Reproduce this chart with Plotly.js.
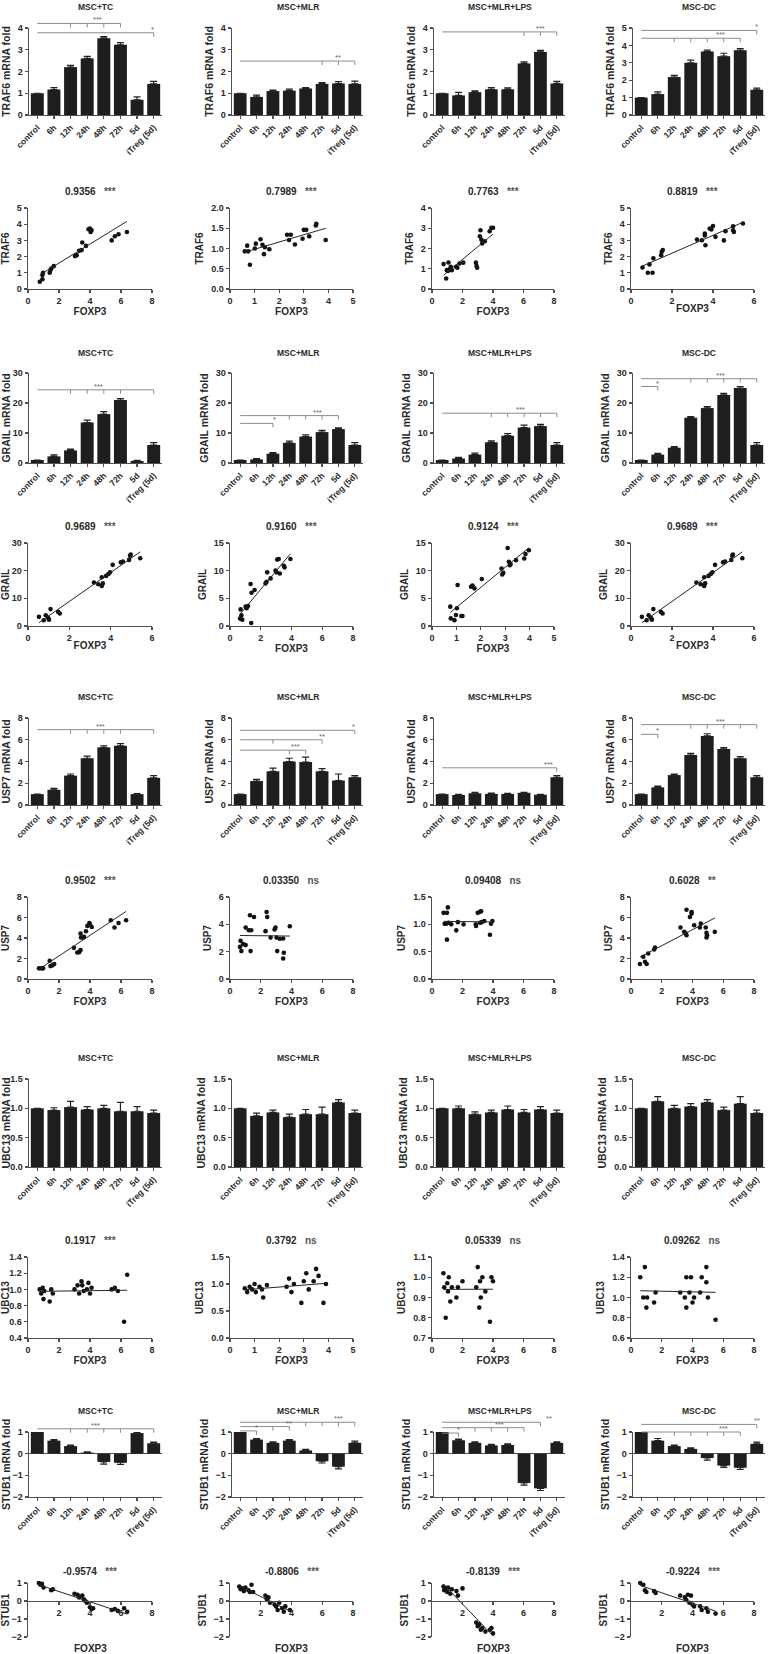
<!DOCTYPE html>
<html><head><meta charset="utf-8">
<script src="https://cdn.plot.ly/plotly-3.0.1.min.js"></script>
<style>html,body{margin:0;padding:0;background:#fff}#chart{width:770px;height:1654px}</style>
</head><body><div id="chart"></div>
<script>
// ---------------- DATA ----------------
const categories = ['control','6h','12h','24h','48h','72h','5d','iTreg (5d)'];
const groups = ['MSC+TC','MSC+MLR','MSC+MLR+LPS','MSC-DC'];

// TRAF6 bars (mean, SEM)
const traf6_tc = [1.0,1.17,2.2,2.6,3.53,3.23,0.7,1.43];
const traf6_tc_sem = [0,0.09,0.08,0.1,0.07,0.1,0.13,0.12];
const traf6_mlr = [1.0,0.83,1.1,1.12,1.22,1.43,1.45,1.43];
const traf6_mlr_sem = [0,0.08,0.05,0.07,0.04,0.06,0.09,0.13];
const traf6_lps = [1.0,0.9,1.05,1.18,1.18,2.37,2.9,1.45];
const traf6_lps_sem = [0,0.14,0.06,0.08,0.07,0.07,0.07,0.1];
const traf6_dc = [1.0,1.2,2.18,3.0,3.65,3.38,3.72,1.45];
const traf6_dc_sem = [0,0.13,0.1,0.15,0.08,0.17,0.1,0.1];
// significance brackets: [from, to, level, tick categories, label, label at]
const traf6_tc_sig = [[0,5,4.21,[2,3,4,5],'***',3.6],[0,7,3.78,[7],'*',6.95]];
const traf6_mlr_sig = [[0,7,2.48,[5,6,7],'**',6]];
const traf6_lps_sig = [[0,7,3.82,[5,6,7],'***',6]];
const traf6_dc_sig = [[0,7,4.86,[7],'*',7],[0,6,4.41,[2,3,4,5,6],'***',4.8]];

// GRAIL bars
const grail_tc = [1.0,2.2,4.2,13.5,16.3,21.0,0.7,6.0];
const grail_tc_sem = [0,0.5,0.4,0.8,0.8,0.5,0.2,0.8];
const grail_mlr = [1.0,1.2,3.1,6.7,8.8,10.3,11.3,6.0];
const grail_mlr_sem = [0,0.3,0.4,0.6,0.6,0.6,0.4,0.8];
const grail_lps = [1.0,1.5,2.8,6.9,9.1,11.8,12.3,6.0];
const grail_lps_sem = [0,0.4,0.5,0.5,0.7,0.8,0.6,0.8];
const grail_dc = [1.0,2.8,5.1,15.1,18.3,22.7,25.0,6.0];
const grail_dc_sem = [0,0.4,0.4,0.4,0.5,0.5,0.5,0.8];
const grail_tc_sig = [[0,7,24.4,[2,3,4,5,7],'***',3.7]];
const grail_mlr_sig = [[0,6,15.8,[3,4,5,6],'***',4.7],[0,2,13.2,[2],'*',2.1]];
const grail_lps_sig = [[0,7,16.6,[3,4,5,6,7],'***',4.8]];
const grail_dc_sig = [[0,7,28.1,[3,4,5,6,7],'***',4.8],[0,1,25.5,[1],'*',1]];

// USP7 bars
const usp7_tc = [1.0,1.4,2.7,4.3,5.3,5.45,1.0,2.5];
const usp7_tc_sem = [0,0.12,0.15,0.2,0.15,0.2,0.05,0.2];
const usp7_mlr = [1.0,2.2,3.1,4.0,3.95,3.1,2.25,2.55];
const usp7_mlr_sem = [0,0.15,0.3,0.3,0.45,0.25,0.6,0.15];
const usp7_lps = [1.0,0.92,1.08,1.02,1.02,1.12,0.95,2.55];
const usp7_lps_sem = [0,0.07,0.08,0.07,0.05,0.05,0.04,0.15];
const usp7_dc = [1.0,1.62,2.75,4.6,6.35,5.15,4.3,2.55];
const usp7_dc_sem = [0,0.12,0.1,0.15,0.2,0.12,0.15,0.15];
const usp7_tc_sig = [[0,7,6.93,[2,3,4,5,7],'***',3.8]];
const usp7_mlr_sig = [[0,7,6.87,[7],'*',6.95],[0,5,6.0,[2,5],'**',5],[0,4,5.04,[3,4],'***',3.4]];
const usp7_lps_sig = [[0,7,3.42,[7],'***',6.5]];
const usp7_dc_sig = [[0,7,7.39,[3,4,5,6,7],'***',4.8],[0,1,6.5,[1],'*',1]];

// UBC13 bars
const ubc13_tc = [1.0,0.97,1.02,0.98,1.0,0.95,0.95,0.92];
const ubc13_tc_sem = [0,0.04,0.1,0.05,0.05,0.15,0.08,0.05];
const ubc13_mlr = [1.0,0.87,0.93,0.85,0.9,0.9,1.1,0.92];
const ubc13_mlr_sem = [0,0.05,0.04,0.05,0.08,0.12,0.05,0.05];
const ubc13_lps = [1.0,1.0,0.9,0.93,0.98,0.93,0.98,0.92];
const ubc13_lps_sem = [0,0.04,0.04,0.04,0.06,0.05,0.05,0.05];
const ubc13_dc = [1.0,1.12,1.0,1.03,1.1,0.97,1.08,0.92];
const ubc13_dc_sem = [0,0.08,0.05,0.05,0.05,0.05,0.12,0.05];

// STUB1 bars
const stub1_tc = [1.0,0.6,0.35,0.05,-0.38,-0.42,0.95,0.48];
const stub1_tc_sem = [0,0.05,0.05,0.03,0.1,0.08,0.05,0.05];
const stub1_mlr = [1.0,0.65,0.5,0.6,0.15,-0.35,-0.6,0.5];
const stub1_mlr_sem = [0,0.05,0.05,0.05,0.05,0.08,0.1,0.08];
const stub1_lps = [1.0,0.62,0.5,0.38,0.4,-1.35,-1.6,0.5];
const stub1_lps_sem = [0,0.05,0.05,0.05,0.05,0.1,0.1,0.05];
const stub1_dc = [1.0,0.6,0.35,0.22,-0.2,-0.55,-0.65,0.45];
const stub1_dc_sem = [0,0.1,0.05,0.05,0.1,0.08,0.08,0.08];
const stub1_tc_sig = [[0,7,1.15,[2,3,4,5,7],'***',3.5]];
const stub1_mlr_sig = [[0,7,1.45,[4,5,6,7],'***',6],[0,3,1.25,[2,3],'**',3],[0,1,1.05,[1],'*',1]];
const stub1_lps_sig = [[0,6,1.45,[6],'**',6.5],[0,5,1.2,[2,3,4,5],'***',3.5],[0,1,0.95,[1],'*',1]];
const stub1_dc_sig = [[0,7,1.35,[7],'**',7],[0,6,1.0,[2,3,4,5,6],'***',5]];

// Correlation scatter data (FOXP3 vs gene)
const traf6_r = ['0.9356','0.7989','0.7763','0.8819'];
const traf6_p = ['***','***','***','***'];
const traf6_tc_fx = [0.76,0.93,0.93,0.97,1.4,1.45,1.5,1.66,3.03,3.14,3.3,3.46,3.5,3.74,3.9,4.0,4.04,4.1,5.4,5.6,5.84,6.38];
const traf6_tc_y  = [0.45,0.6,0.86,1.0,1.0,1.17,1.27,1.41,2.03,2.09,2.36,2.4,2.87,2.66,3.69,3.73,3.52,3.63,3.0,3.26,3.38,3.52];
const traf6_mlr_fx = [0.6,0.7,0.74,0.81,1.01,1.05,1.24,1.32,1.38,1.42,1.6,2.32,2.4,2.47,2.64,2.95,3.0,3.1,3.22,3.49,3.51,3.89];
const traf6_mlr_y  = [0.93,1.07,0.93,0.6,1.0,1.12,1.23,1.09,0.86,1.03,0.98,1.34,1.21,1.34,1.1,1.24,1.46,1.46,1.3,1.57,1.61,1.21];
const traf6_lps_fx = [0.76,0.93,0.97,1.04,1.08,1.15,1.23,1.3,1.58,1.66,1.8,2.05,2.88,2.92,2.96,3.14,3.18,3.24,3.29,3.46,3.78,3.89,4.0];
const traf6_lps_y  = [1.23,0.52,0.93,0.89,1.31,0.97,1.1,0.93,1.1,1.05,1.26,1.3,1.3,1.13,1.05,2.6,2.9,2.43,2.25,2.36,2.85,3.02,3.02];
const traf6_dc_fx = [0.56,0.82,0.9,1.05,1.09,1.47,1.5,1.55,3.22,3.46,3.6,3.6,3.63,3.84,3.92,4.0,4.12,4.53,4.61,4.98,4.98,5.02,5.46];
const traf6_dc_y  = [1.33,1.0,1.52,1.0,1.9,2.09,2.3,2.4,3.05,3.01,3.42,3.3,2.7,3.73,3.67,3.89,3.22,3.0,3.57,3.87,3.62,3.52,4.04];

const grail_r = ['0.9689','0.9160','0.9124','0.9689'];
const grail_p = ['***','***','***','***'];
const grail_tc_fx = [0.53,0.76,0.86,0.97,1.02,1.09,1.46,1.54,3.19,3.4,3.57,3.57,3.62,3.78,3.89,3.97,4.1,4.49,4.59,4.89,4.94,4.97,5.43];
const grail_tc_y  = [3.3,2.1,3.9,3.0,2.3,6.1,5.1,4.5,15.7,15.1,17.6,14.5,15.4,18.1,18.8,19.4,22.1,23.0,23.3,23.9,25.4,25.8,24.5];
const grail_mlr_fx = [0.65,0.69,0.74,0.8,1.02,1.08,1.17,1.34,1.38,1.4,1.6,2.31,2.38,2.42,2.64,2.96,3.03,3.07,3.17,3.24,3.5,3.55,3.93];
const grail_mlr_y  = [1.34,3.0,1.94,1.15,3.5,3.2,3.6,7.6,0.55,6.0,6.5,7.7,8.0,9.7,8.6,10.0,9.7,12.0,12.1,9.5,10.9,10.6,12.1];
const grail_lps_fx = [0.75,0.77,0.92,0.98,1.02,1.05,1.2,1.25,1.6,1.66,1.74,2.04,2.85,2.88,2.92,3.1,3.15,3.19,3.22,3.44,3.78,3.83,3.97];
const grail_lps_y  = [3.5,1.37,1.06,2.0,3.2,7.4,1.8,1.8,7.1,7.3,6.8,8.5,10.4,9.3,9.6,14.1,11.6,11.0,11.2,11.9,12.2,13.0,13.7];
const grail_dc_fx = [0.53,0.76,0.86,0.97,1.02,1.09,1.46,1.54,3.19,3.4,3.57,3.57,3.62,3.78,3.89,3.97,4.1,4.49,4.59,4.89,4.94,4.97,5.43];
const grail_dc_y  = [3.3,2.1,3.9,3.0,2.3,6.1,5.1,4.5,15.7,15.1,17.6,14.5,15.4,18.1,18.8,19.4,22.1,23.0,23.3,23.9,25.4,25.8,24.5];

const usp7_r = ['0.9502','0.03350','0.09408','0.6028'];
const usp7_p = ['***','ns','ns','**'];
const usp7_tc_fx = [0.71,0.86,0.97,1.4,1.45,1.58,1.69,2.96,3.18,3.3,3.39,3.39,3.42,3.53,3.61,3.74,3.83,3.96,4.0,4.11,5.34,5.58,5.84,6.33];
const usp7_tc_y  = [1.04,1.04,1.04,1.78,1.26,1.33,1.46,3.04,2.59,2.62,2.82,4.43,4.05,4.05,4.11,4.66,5.18,5.47,5.31,5.08,5.73,5.02,5.47,5.73];
const usp7_mlr_fx = [0.65,0.69,0.74,0.86,1.02,1.02,1.23,1.3,1.34,1.38,1.56,2.38,2.42,2.31,2.64,2.9,2.96,3.03,3.07,3.24,3.46,3.5,3.46,3.89];
const usp7_mlr_y  = [2.35,2.79,2.04,2.55,2.48,3.76,3.57,4.66,2.04,3.57,4.54,4.9,4.54,3.5,3.03,3.62,3.76,3.03,2.04,2.94,2.96,1.92,1.5,3.86];
const usp7_lps_fx = [0.76,0.83,0.98,0.93,0.98,1.04,1.09,1.26,1.59,1.7,2.07,2.87,2.89,3.0,3.15,3.22,3.15,3.26,3.43,3.87,3.8,3.96];
const usp7_lps_y  = [1.21,1.01,1.21,1.01,0.72,1.31,1.03,1.0,0.89,1.04,1.0,1.0,0.97,1.21,1.23,1.24,1.03,1.04,1.06,1.01,0.81,1.06];
const usp7_dc_fx = [0.58,0.8,0.91,1.02,1.12,1.51,1.56,3.22,3.46,3.57,3.61,3.61,3.83,3.94,3.94,4.11,4.48,4.54,4.86,4.91,4.95,4.91,5.45];
const usp7_dc_y  = [1.46,2.17,1.68,1.46,2.49,2.88,3.07,5.02,4.6,4.43,6.76,4.27,6.05,6.54,6.38,5.24,5.02,5.4,5.02,4.5,4.27,4.05,4.6];

const ubc13_r = ['0.1917','0.3792','0.05339','0.09262'];
const ubc13_p = ['***','ns','ns','ns'];
const ubc13_tc_fx = [0.75,0.85,0.95,1.0,1.05,1.4,1.5,1.6,3.0,3.2,3.3,3.45,3.5,3.6,3.8,3.9,4.0,4.1,5.4,5.6,5.8,6.2,6.4];
const ubc13_tc_y  = [1.0,0.95,1.02,0.88,0.98,0.85,1.0,0.95,1.0,1.05,0.95,1.1,1.05,0.98,1.0,1.08,0.95,1.02,1.0,1.02,0.98,0.6,1.18];
const ubc13_mlr_fx = [0.6,0.7,0.8,0.9,1.0,1.05,1.2,1.3,1.35,1.5,2.3,2.4,2.5,2.6,2.9,3.0,3.1,3.2,3.4,3.5,3.6,3.8,3.9];
const ubc13_mlr_y  = [0.92,0.85,0.95,0.9,1.0,0.85,0.95,0.9,0.75,0.98,0.95,1.1,0.85,1.0,0.65,1.05,1.2,0.9,1.05,1.28,1.15,0.65,1.0];
const ubc13_lps_fx = [0.75,0.8,0.9,1.0,1.05,1.1,1.2,1.3,1.6,1.7,2.0,2.9,3.0,3.1,3.15,3.2,3.3,3.5,3.8,3.9,4.0];
const ubc13_lps_y  = [1.02,0.95,0.8,0.97,0.93,1.0,0.88,0.95,0.9,0.95,0.98,0.95,1.05,0.85,0.98,0.9,1.0,0.93,0.78,1.0,0.98];
const ubc13_dc_fx = [0.6,0.8,0.9,1.0,1.05,1.5,1.6,3.2,3.5,3.6,3.6,3.8,3.9,4.0,4.1,4.5,4.6,4.9,4.9,5.0,5.5];
const ubc13_dc_y  = [1.2,1.0,1.3,0.9,1.0,0.95,1.05,1.05,1.0,1.2,0.9,1.05,1.2,0.95,1.0,1.05,1.2,1.3,1.15,1.0,0.78];

const stub1_r = ['-0.9574','-0.8806','-0.8139','-0.9224'];
const stub1_p = ['***','***','***','***'];
const stub1_tc_fx = [0.7,0.8,0.9,1.0,1.5,1.6,3.0,3.2,3.3,3.5,3.6,3.7,3.8,4.0,4.1,4.2,5.4,5.6,5.8,6.2,6.4];
const stub1_tc_y  = [1.0,0.9,0.95,0.75,0.6,0.65,0.4,0.35,0.2,0.3,0.1,0.0,-0.1,-0.35,-0.45,-0.4,-0.5,-0.45,-0.55,-0.4,-0.6];
const stub1_mlr_fx = [0.6,0.7,0.8,0.9,1.0,1.2,1.3,1.4,1.5,2.3,2.4,2.5,2.6,2.9,3.0,3.1,3.2,3.4,3.5,3.6,3.9];
const stub1_mlr_y  = [0.8,0.65,0.7,0.55,0.75,0.6,0.5,0.9,0.5,0.3,0.1,0.2,-0.1,-0.2,-0.3,-0.5,-0.1,-0.4,-0.6,-0.3,-0.5];
const stub1_lps_fx = [0.75,0.8,0.9,1.0,1.05,1.2,1.3,1.6,1.7,2.0,2.9,3.0,3.1,3.2,3.3,3.5,3.8,3.9,4.0];
const stub1_lps_y  = [0.8,0.6,0.7,0.5,0.75,0.4,0.65,0.55,0.3,0.7,-1.2,-1.4,-1.3,-1.6,-1.5,-1.7,-1.6,-1.5,-1.8];
const stub1_dc_fx = [0.6,0.8,0.9,1.0,1.5,1.6,3.2,3.5,3.6,3.7,3.8,3.9,4.0,4.1,4.5,4.6,4.9,5.0,5.5];
const stub1_dc_y  = [1.0,0.9,0.6,0.5,0.55,0.45,0.3,0.2,0.05,0.35,-0.1,0.3,-0.2,-0.3,-0.3,-0.5,-0.4,-0.6,-0.7];

// ---------------- LAYOUT ----------------
const W = 770, H = 1654;
const F = 'Liberation Sans, Arial, Helvetica, sans-serif';
const TXT = '#2a2a2a', AX = '#505050', BAR = '#1e1e1e';
const barCols = [[29,162],[232,363],[434,565],[633,765]];
const scCols  = [[28,152],[230,353],[432,554],[631,754]];
const barRows = [{top:28,bot:115,title:7},{top:373,bot:463,title:353},{top:718,bot:805,title:697},{top:1079,bot:1167,title:1058},{top:1432,bot:1497,title:1411}];
const scRows  = [{top:208,bot:289,title:192},{top:543,bot:626,title:526},{top:897,bot:979,title:881},{top:1257,bot:1338,title:1240},{top:1583,bot:1637,title:1571}];

const traces = [], shapes = [], annotations = [];
const layout = {width:W, height:H, margin:{l:0,r:0,t:0,b:0}, showlegend:false,
  paper_bgcolor:'#fff', plot_bgcolor:'rgba(0,0,0,0)', font:{family:F,color:TXT}};
let n = 0;
function ids(){ n++; const s = n===1?'':String(n); return {xa:'x'+s, ya:'y'+s, xk:'xaxis'+s, yk:'yaxis'+s}; }
function axisBase(){
  return {showline:true, linecolor:AX, linewidth:1.4, ticks:'outside', ticklen:3, tickwidth:1.2, tickcolor:AX,
    showgrid:false, zeroline:false, fixedrange:true, automargin:false,
    tickfont:{family:F,size:9,color:TXT,weight:700}};
}

function addBar(r, c, gene, means, sems, yr, dt, sig, yfmt){
  const id = ids(); const [x0,x1] = barCols[c]; const R = barRows[r];
  const dx = [x0/W, x1/W], dy = [1-R.bot/H, 1-R.top/H];
  traces.push({type:'bar', x:categories, y:means, xaxis:id.xa, yaxis:id.ya, width:0.78,
    marker:{color:BAR, line:{width:0}}, hoverinfo:'skip',
    error_y:{type:'data', symmetric:false,
      array:means.map((v,i)=>v>=0?sems[i]:0), arrayminus:means.map((v,i)=>v<0?sems[i]:0),
      color:'#222', thickness:1.2, width:3.5}});
  layout[id.xk] = Object.assign(axisBase(), {domain:dx, anchor:id.ya, type:'category', range:[-0.5,7.5],
    tickangle:-45, tickfont:{family:F,size:8.5,color:TXT,weight:700}});
  layout[id.yk] = Object.assign(axisBase(), {domain:dy, anchor:id.xa, range:yr, dtick:dt, tick0:0, tickformat:yfmt||'',
    title:{text:gene+' mRNA fold', font:{family:F,size:10.5,color:TXT,weight:700}, standoff:5}});
  if (yr[0] < 0) { layout[id.yk].zeroline = true; layout[id.yk].zerolinecolor = AX; layout[id.yk].zerolinewidth = 1.2; }
  annotations.push({xref:'paper', yref:'paper', x:(dx[0]+dx[1])/2, y:1-R.title/H, text:groups[c], showarrow:false,
    xanchor:'center', yanchor:'middle', font:{family:F,size:8.5,color:TXT,weight:700}});
  const tl = 4/(R.bot-R.top);
  (sig||[]).forEach(b=>{
    const f = (b[2]-yr[0])/(yr[1]-yr[0]);
    shapes.push({type:'line', xref:id.xa, yref:id.ya+' domain', x0:b[0], x1:b[1], y0:f, y1:f, line:{color:'#8c8c8c', width:1}});
    b[3].forEach(t=>shapes.push({type:'line', xref:id.xa, yref:id.ya+' domain', x0:t, x1:t, y0:f, y1:f-tl, line:{color:'#8c8c8c', width:1}}));
    annotations.push({xref:id.xa, yref:id.ya+' domain', x:b[5], y:f, text:b[4], showarrow:false, xanchor:'center',
      yanchor:'bottom', yshift:-3, font:{family:F,size:7.5,color:'#666'}});
  });
}

function fitLine(xs, ys){
  const m = xs.length; const mx = xs.reduce((a,b)=>a+b,0)/m; const my = ys.reduce((a,b)=>a+b,0)/m;
  let sxy=0, sxx=0; for(let i=0;i<m;i++){ sxy+=(xs[i]-mx)*(ys[i]-my); sxx+=(xs[i]-mx)*(xs[i]-mx); }
  const b = sxy/sxx, a = my-b*mx; const lo = Math.min(...xs), hi = Math.max(...xs);
  return {x:[lo,hi], y:[a+b*lo, a+b*hi]};
}

function addScatter(r, c, gene, xs, ys, xr, xdt, yr, ydt, rv, pv, yfmt, crossZero){
  const id = ids(); const [x0,x1] = scCols[c]; const R = scRows[r];
  const dx = [x0/W, x1/W], dy = [1-R.bot/H, 1-R.top/H];
  traces.push({type:'scatter', mode:'markers', x:xs, y:ys, xaxis:id.xa, yaxis:id.ya, cliponaxis:false,
    marker:{size:4.6, color:'#121212'}, hoverinfo:'skip'});
  const L = fitLine(xs, ys);
  traces.push({type:'scatter', mode:'lines', x:L.x, y:L.y, xaxis:id.xa, yaxis:id.ya,
    line:{color:'#262626', width:1}, hoverinfo:'skip'});
  const xa = Object.assign(axisBase(), {domain:dx, anchor:id.ya, range:xr, dtick:xdt, tick0:0, ticklen:2.5});
  if (crossZero) {
    xa.anchor = 'free';
    xa.position = dy[0] + (0-yr[0])/(yr[1]-yr[0])*(dy[1]-dy[0]);
    xa.tickvals = [2,4,6,8]; delete xa.dtick;
    annotations.push({xref:'paper', yref:'paper', x:(dx[0]+dx[1])/2, y:1-(R.bot+11)/H, text:'FOXP3', showarrow:false,
      xanchor:'center', yanchor:'middle', font:{family:F,size:10,color:TXT,weight:700}});
  } else {
    xa.title = {text:'FOXP3', font:{family:F,size:10,color:TXT,weight:700}, standoff:0};
  }
  layout[id.xk] = xa;
  layout[id.yk] = Object.assign(axisBase(), {domain:dy, anchor:id.xa, range:yr, dtick:ydt, tick0:0,
    tickformat:yfmt||'', title:{text:gene, font:{family:F,size:10,color:TXT,weight:700}, standoff:5}});
  annotations.push({xref:'paper', yref:'paper', x:(dx[0]+dx[1])/2, y:1-R.title/H,
    text:'<b>'+rv+'</b>\u00a0\u00a0\u00a0<span style="color:#555">'+pv+'</span>', showarrow:false,
    xanchor:'center', yanchor:'middle', font:{family:F,size:10,color:TXT,weight:700}});
}

// Row 1-2 TRAF6
addBar(0,0,'TRAF6',traf6_tc,traf6_tc_sem,[0,4],1,traf6_tc_sig);
addBar(0,1,'TRAF6',traf6_mlr,traf6_mlr_sem,[0,4],1,traf6_mlr_sig);
addBar(0,2,'TRAF6',traf6_lps,traf6_lps_sem,[0,4],1,traf6_lps_sig);
addBar(0,3,'TRAF6',traf6_dc,traf6_dc_sem,[0,5],1,traf6_dc_sig);
addScatter(0,0,'TRAF6',traf6_tc_fx,traf6_tc_y,[0,8],2,[0,5],1,traf6_r[0],traf6_p[0]);
addScatter(0,1,'TRAF6',traf6_mlr_fx,traf6_mlr_y,[0,5],1,[0,2],0.5,traf6_r[1],traf6_p[1],'.1f');
addScatter(0,2,'TRAF6',traf6_lps_fx,traf6_lps_y,[0,8],2,[0,4],1,traf6_r[2],traf6_p[2]);
addScatter(0,3,'TRAF6',traf6_dc_fx,traf6_dc_y,[0,6],2,[0,5],1,traf6_r[3],traf6_p[3]);
// Row 3-4 GRAIL
addBar(1,0,'GRAIL',grail_tc,grail_tc_sem,[0,30],10,grail_tc_sig);
addBar(1,1,'GRAIL',grail_mlr,grail_mlr_sem,[0,30],10,grail_mlr_sig);
addBar(1,2,'GRAIL',grail_lps,grail_lps_sem,[0,30],10,grail_lps_sig);
addBar(1,3,'GRAIL',grail_dc,grail_dc_sem,[0,30],10,grail_dc_sig);
addScatter(1,0,'GRAIL',grail_tc_fx,grail_tc_y,[0,6],2,[0,30],10,grail_r[0],grail_p[0]);
addScatter(1,1,'GRAIL',grail_mlr_fx,grail_mlr_y,[0,8],2,[0,15],5,grail_r[1],grail_p[1]);
addScatter(1,2,'GRAIL',grail_lps_fx,grail_lps_y,[0,5],1,[0,15],5,grail_r[2],grail_p[2]);
addScatter(1,3,'GRAIL',grail_dc_fx,grail_dc_y,[0,6],2,[0,30],10,grail_r[3],grail_p[3]);
// Row 5-6 USP7
addBar(2,0,'USP7',usp7_tc,usp7_tc_sem,[0,8],2,usp7_tc_sig);
addBar(2,1,'USP7',usp7_mlr,usp7_mlr_sem,[0,8],2,usp7_mlr_sig);
addBar(2,2,'USP7',usp7_lps,usp7_lps_sem,[0,8],2,usp7_lps_sig);
addBar(2,3,'USP7',usp7_dc,usp7_dc_sem,[0,8],2,usp7_dc_sig);
addScatter(2,0,'USP7',usp7_tc_fx,usp7_tc_y,[0,8],2,[0,8],2,usp7_r[0],usp7_p[0]);
addScatter(2,1,'USP7',usp7_mlr_fx,usp7_mlr_y,[0,8],2,[0,6],2,usp7_r[1],usp7_p[1]);
addScatter(2,2,'USP7',usp7_lps_fx,usp7_lps_y,[0,8],2,[0,1.5],0.5,usp7_r[2],usp7_p[2],'.1f');
addScatter(2,3,'USP7',usp7_dc_fx,usp7_dc_y,[0,8],2,[0,8],2,usp7_r[3],usp7_p[3]);
// Row 7-8 UBC13
addBar(3,0,'UBC13',ubc13_tc,ubc13_tc_sem,[0,1.5],0.5,[],'.1f');
addBar(3,1,'UBC13',ubc13_mlr,ubc13_mlr_sem,[0,1.5],0.5,[],'.1f');
addBar(3,2,'UBC13',ubc13_lps,ubc13_lps_sem,[0,1.5],0.5,[],'.1f');
addBar(3,3,'UBC13',ubc13_dc,ubc13_dc_sem,[0,1.5],0.5,[],'.1f');
addScatter(3,0,'UBC13',ubc13_tc_fx,ubc13_tc_y,[0,8],2,[0.4,1.4],0.2,ubc13_r[0],ubc13_p[0],'.1f');
addScatter(3,1,'UBC13',ubc13_mlr_fx,ubc13_mlr_y,[0,5],1,[0,1.5],0.5,ubc13_r[1],ubc13_p[1],'.1f');
addScatter(3,2,'UBC13',ubc13_lps_fx,ubc13_lps_y,[0,8],2,[0.7,1.1],0.1,ubc13_r[2],ubc13_p[2],'.1f');
addScatter(3,3,'UBC13',ubc13_dc_fx,ubc13_dc_y,[0,8],2,[0.6,1.4],0.2,ubc13_r[3],ubc13_p[3],'.1f');
// Row 9-10 STUB1
addBar(4,0,'STUB1',stub1_tc,stub1_tc_sem,[-2,1],1,stub1_tc_sig);
addBar(4,1,'STUB1',stub1_mlr,stub1_mlr_sem,[-2,1],1,stub1_mlr_sig);
addBar(4,2,'STUB1',stub1_lps,stub1_lps_sem,[-2,1],1,stub1_lps_sig);
addBar(4,3,'STUB1',stub1_dc,stub1_dc_sem,[-2,1],1,stub1_dc_sig);
addScatter(4,0,'STUB1',stub1_tc_fx,stub1_tc_y,[0,8],2,[-2,1],1,stub1_r[0],stub1_p[0],'',true);
addScatter(4,1,'STUB1',stub1_mlr_fx,stub1_mlr_y,[0,8],2,[-2,1],1,stub1_r[1],stub1_p[1],'',true);
addScatter(4,2,'STUB1',stub1_lps_fx,stub1_lps_y,[0,8],2,[-2,1],1,stub1_r[2],stub1_p[2],'',true);
addScatter(4,3,'STUB1',stub1_dc_fx,stub1_dc_y,[0,8],2,[-2,1],1,stub1_r[3],stub1_p[3],'',true);

layout.shapes = shapes; layout.annotations = annotations;
Plotly.newPlot('chart', traces, layout, {staticPlot:true, displayModeBar:false});
</script></body></html>
